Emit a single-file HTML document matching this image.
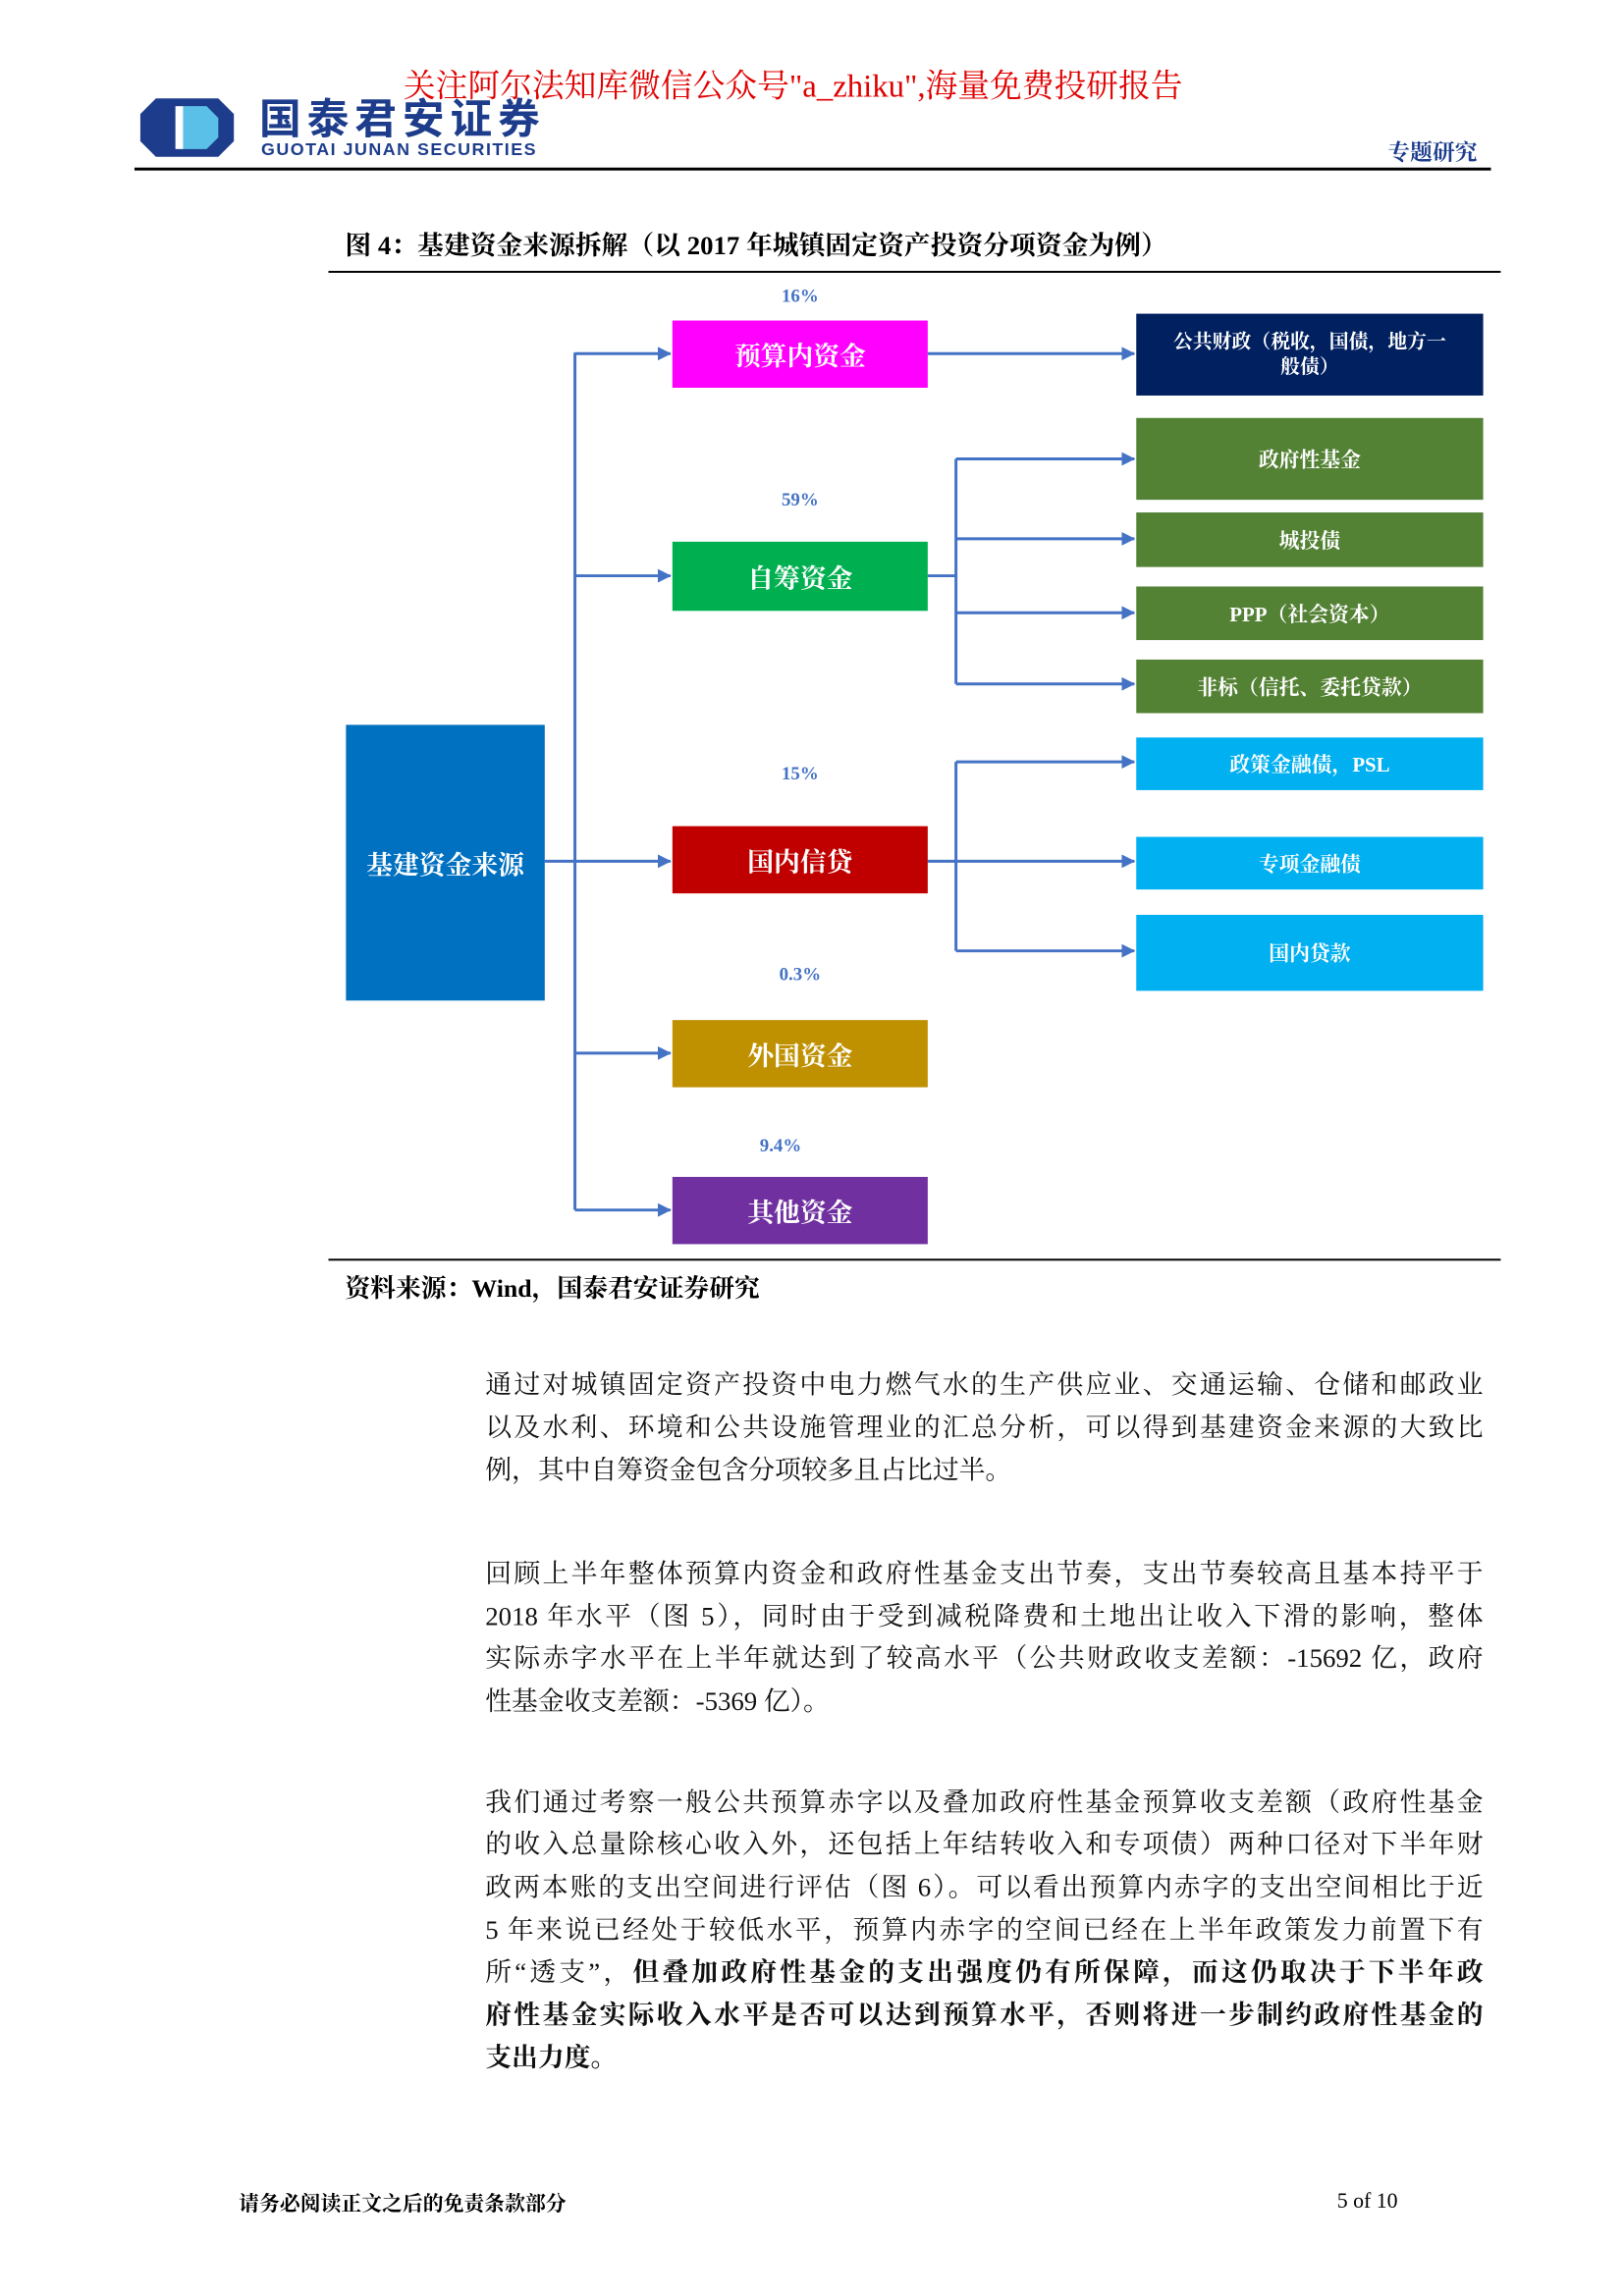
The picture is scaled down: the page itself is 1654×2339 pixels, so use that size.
<!DOCTYPE html>
<html><head><meta charset="utf-8">
<style>
body{margin:0;width:1654px;height:2339px;background:#fff;position:relative;overflow:hidden;font-family:"Liberation Serif","Noto Serif CJK SC",serif;}
#w{position:absolute;left:0;top:0;width:1654px;height:2339px;transform:scale(0.9925);transform-origin:0 0;}
.a{position:absolute;white-space:nowrap;}
.ln{position:absolute;left:498px;width:1024px;font-size:27px;line-height:44px;text-align:justify;text-align-last:justify;white-space:nowrap;color:#111;}
.ln.e{text-align-last:left;}
.box{position:absolute;display:flex;align-items:center;justify-content:center;color:#fff;font-weight:bold;text-align:center;}
.pct{position:absolute;color:#4472C4;font-weight:bold;font-size:19px;width:262px;text-align:center;left:690px;}
</style></head><body><div id="w">
<svg class="a" style="left:142px;top:99px" width="100" height="64" viewBox="0 0 100 64">
<polygon points="18,2 82,2 98,18 98,46 82,62 18,62 2,46 2,18" fill="#1d3d8c"/>
<rect x="38" y="10" width="8" height="44" fill="#fff"/>
<polygon points="46,10 70,10 82,22 82,42 70,54 46,54" fill="#5bc0e8"/>
</svg>
<div class="a" style="left:266px;top:100px;font-size:43px;line-height:46px;font-weight:bold;color:#1d3d8c;font-family:'Liberation Sans','Noto Sans CJK SC',sans-serif;letter-spacing:6px;">国泰君安证券</div>
<div class="a" style="left:268px;top:143px;font-size:18px;line-height:20px;color:#1d3d8c;font-family:'Liberation Sans',sans-serif;font-weight:bold;letter-spacing:1.5px;">GUOTAI JUNAN SECURITIES</div>
<div class="a" style="left:414px;top:62px;font-size:33px;color:#e00000;font-family:'Liberation Serif','Noto Serif CJK SC',serif;">关注阿尔法知库微信公众号"a_zhiku",海量免费投研报告</div>
<div class="a" style="left:1424px;top:138px;font-size:23px;color:#1d3d8c;font-weight:bold;">专题研究</div>
<div class="a" style="left:138px;top:172px;width:1392px;height:3px;background:#000;"></div>
<div class="a" style="left:354px;top:230px;font-size:27px;font-weight:bold;">图 4：基建资金来源拆解（以 2017 年城镇固定资产投资分项资金为例）</div>
<div class="a" style="left:337px;top:278px;width:1203px;height:2px;background:#000;"></div>

<svg class="a" style="left:0;top:0" width="1654" height="1300">
<defs><marker id="ar" markerWidth="14" markerHeight="14" refX="13" refY="7" orient="auto" markerUnits="userSpaceOnUse"><path d="M0,0 L14,7 L0,14 z" fill="#4472C4"/></marker></defs>
<g stroke="#4472C4" stroke-width="3" fill="none">
<line x1="590" y1="362" x2="590" y2="1242"/>
<line x1="559" y1="884" x2="688" y2="884" marker-end="url(#ar)"/>
<line x1="590" y1="363" x2="688" y2="363" marker-end="url(#ar)"/>
<line x1="590" y1="591" x2="688" y2="591" marker-end="url(#ar)"/>
<line x1="590" y1="1081" x2="688" y2="1081" marker-end="url(#ar)"/>
<line x1="590" y1="1242" x2="688" y2="1242" marker-end="url(#ar)"/>
<line x1="952" y1="363" x2="1164" y2="363" marker-end="url(#ar)"/>
<line x1="952" y1="591" x2="981" y2="591"/>
<line x1="981" y1="471" x2="981" y2="702"/>
<line x1="981" y1="471" x2="1164" y2="471" marker-end="url(#ar)"/>
<line x1="981" y1="553" x2="1164" y2="553" marker-end="url(#ar)"/>
<line x1="981" y1="629" x2="1164" y2="629" marker-end="url(#ar)"/>
<line x1="981" y1="702" x2="1164" y2="702" marker-end="url(#ar)"/>
<line x1="952" y1="884" x2="1164" y2="884" marker-end="url(#ar)"/>
<line x1="981" y1="782" x2="981" y2="976"/>
<line x1="981" y1="782" x2="1164" y2="782" marker-end="url(#ar)"/>
<line x1="981" y1="976" x2="1164" y2="976" marker-end="url(#ar)"/>
</g></svg>

<div class="box" style="left:355px;top:744px;width:204px;height:283px;background:#0070C0;font-size:27px;">基建资金来源</div>
<div class="pct" style="top:294px;">16%</div>
<div class="box" style="left:690px;top:329px;width:262px;height:69px;background:#FF00FF;font-size:27px;">预算内资金</div>
<div class="pct" style="top:503px;">59%</div>
<div class="box" style="left:690px;top:556px;width:262px;height:71px;background:#00B050;font-size:27px;">自筹资金</div>
<div class="pct" style="top:784px;">15%</div>
<div class="box" style="left:690px;top:848px;width:262px;height:69px;background:#C00000;font-size:27px;">国内信贷</div>
<div class="pct" style="top:990px;">0.3%</div>
<div class="box" style="left:690px;top:1047px;width:262px;height:69px;background:#BF9000;font-size:27px;">外国资金</div>
<div class="pct" style="top:1166px;left:670px;">9.4%</div>
<div class="box" style="left:690px;top:1208px;width:262px;height:69px;background:#7030A0;font-size:27px;">其他资金</div>

<div class="box" style="left:1166px;top:322px;width:356px;height:84px;background:#002060;font-size:20px;line-height:26px;">公共财政（税收，国债，地方一<br>般债）</div>
<div class="box" style="left:1166px;top:429px;width:356px;height:84px;background:#548235;font-size:21px;">政府性基金</div>
<div class="box" style="left:1166px;top:526px;width:356px;height:56px;background:#548235;font-size:21px;">城投债</div>
<div class="box" style="left:1166px;top:602px;width:356px;height:55px;background:#548235;font-size:21px;">PPP（社会资本）</div>
<div class="box" style="left:1166px;top:677px;width:356px;height:55px;background:#548235;font-size:21px;">非标（信托、委托贷款）</div>
<div class="box" style="left:1166px;top:757px;width:356px;height:54px;background:#00B0F0;font-size:21px;">政策金融债，PSL</div>
<div class="box" style="left:1166px;top:859px;width:356px;height:54px;background:#00B0F0;font-size:21px;">专项金融债</div>
<div class="box" style="left:1166px;top:939px;width:356px;height:78px;background:#00B0F0;font-size:21px;">国内贷款</div>

<div class="a" style="left:337px;top:1292px;width:1203px;height:2px;background:#000;"></div>
<div class="a" style="left:354px;top:1302px;font-size:26px;font-weight:bold;">资料来源：Wind，国泰君安证券研究</div>

<div class="ln" style="top:1399px;">通过对城镇固定资产投资中电力燃气水的生产供应业、交通运输、仓储和邮政业</div>
<div class="ln" style="top:1443px;">以及水利、环境和公共设施管理业的汇总分析，可以得到基建资金来源的大致比</div>
<div class="ln e" style="top:1487px;">例，其中自筹资金包含分项较多且占比过半。</div>

<div class="ln" style="top:1593px;">回顾上半年整体预算内资金和政府性基金支出节奏，支出节奏较高且基本持平于</div>
<div class="ln" style="top:1637px;">2018 年水平（图 5），同时由于受到减税降费和土地出让收入下滑的影响，整体</div>
<div class="ln" style="top:1680px;">实际赤字水平在上半年就达到了较高水平（公共财政收支差额：-15692 亿，政府</div>
<div class="ln e" style="top:1724px;">性基金收支差额：-5369 亿）。</div>

<div class="ln" style="top:1828px;">我们通过考察一般公共预算赤字以及叠加政府性基金预算收支差额（政府性基金</div>
<div class="ln" style="top:1871px;">的收入总量除核心收入外，还包括上年结转收入和专项债）两种口径对下半年财</div>
<div class="ln" style="top:1915px;">政两本账的支出空间进行评估（图 6）。可以看出预算内赤字的支出空间相比于近</div>
<div class="ln" style="top:1959px;">5 年来说已经处于较低水平，预算内赤字的空间已经在上半年政策发力前置下有</div>
<div class="ln" style="top:2002px;">所“透支”，<b>但叠加政府性基金的支出强度仍有所保障，而这仍取决于下半年政</b></div>
<div class="ln" style="top:2046px;font-weight:bold;">府性基金实际收入水平是否可以达到预算水平，否则将进一步制约政府性基金的</div>
<div class="ln e" style="top:2090px;font-weight:bold;">支出力度。</div>

<div class="a" style="left:245px;top:2246px;font-size:21px;font-weight:bold;">请务必阅读正文之后的免责条款部分</div>
<div class="a" style="left:1372px;top:2246px;font-size:22px;">5 of 10</div>
</div></body></html>
